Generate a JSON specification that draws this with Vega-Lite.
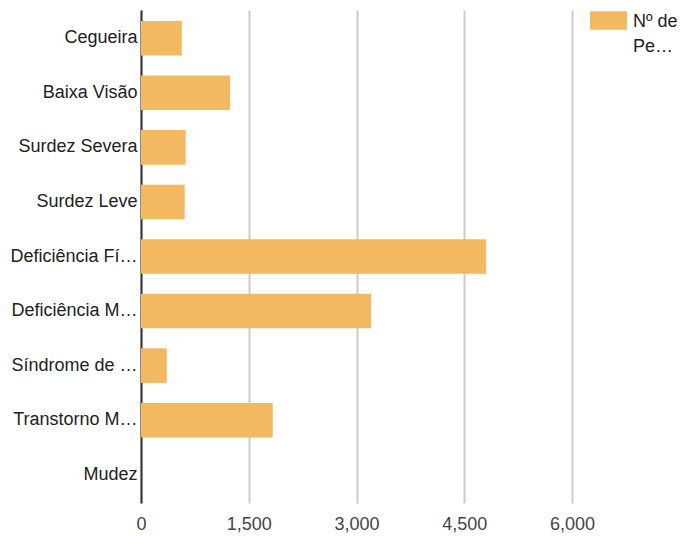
{
  "$schema": "https://vega.github.io/schema/vega-lite/v6.json",
  "width": 431,
  "height": 493,
  "autosize": "none",
  "padding": {"left": 141, "top": 10, "right": 108, "bottom": 33},
  "config": {
    "view": {"stroke": null},
    "font": "Liberation Sans"
  },
  "data": {
    "values": [
      {"tipo": "Cegueira", "serie": "Nº de Pessoas", "valor": 567},
      {"tipo": "Baixa Visão", "serie": "Nº de Pessoas", "valor": 1240},
      {"tipo": "Surdez Severa", "serie": "Nº de Pessoas", "valor": 622},
      {"tipo": "Surdez Leve", "serie": "Nº de Pessoas", "valor": 608},
      {"tipo": "Deficiência Física", "serie": "Nº de Pessoas", "valor": 4805},
      {"tipo": "Deficiência Mental", "serie": "Nº de Pessoas", "valor": 3203},
      {"tipo": "Síndrome de Down", "serie": "Nº de Pessoas", "valor": 358},
      {"tipo": "Transtorno Mental", "serie": "Nº de Pessoas", "valor": 1834},
      {"tipo": "Mudez", "serie": "Nº de Pessoas", "valor": 0}
    ]
  },
  "mark": {"type": "bar"},
  "encoding": {
    "y": {
      "field": "tipo",
      "type": "nominal",
      "sort": null,
      "scale": {"paddingInner": 0.366, "paddingOuter": 0.2},
      "axis": {
        "title": null,
        "ticks": false,
        "domain": true,
        "domainColor": "#333333",
        "domainWidth": 2,
        "labelFontSize": 18,
        "labelColor": "#222222",
        "labelPadding": 4,
        "labelLimit": 128,
        "grid": false
      }
    },
    "x": {
      "field": "valor",
      "type": "quantitative",
      "scale": {"domain": [0, 6000], "nice": false},
      "axis": {
        "title": null,
        "values": [0, 1500, 3000, 4500, 6000],
        "format": ",d",
        "ticks": false,
        "domain": false,
        "grid": true,
        "gridColor": "#cccccc",
        "gridWidth": 2,
        "labelFontSize": 18,
        "labelColor": "#444444",
        "labelPadding": 12,
        "labelFlush": false
      }
    },
    "color": {
      "field": "serie",
      "type": "nominal",
      "scale": {"range": ["#f2b960"]},
      "legend": {
        "title": null,
        "orient": "none",
        "legendX": 449,
        "legendY": -8,
        "padding": 0,
        "symbolType": "M-1,-0.5H1V0.5H-1Z",
        "symbolSize": 1369,
        "symbolStrokeWidth": 0,
        "symbolOpacity": 1,
        "labelFontSize": 18,
        "labelColor": "#222222",
        "labelOffset": 6,
        "labelBaseline": "top",
        "labelExpr": "['Nº de', 'Pe…']",
        "encode": {
          "labels": {"update": {"lineHeight": {"value": 25}, "dy": {"value": -8}}}
        }
      }
    }
  }
}
